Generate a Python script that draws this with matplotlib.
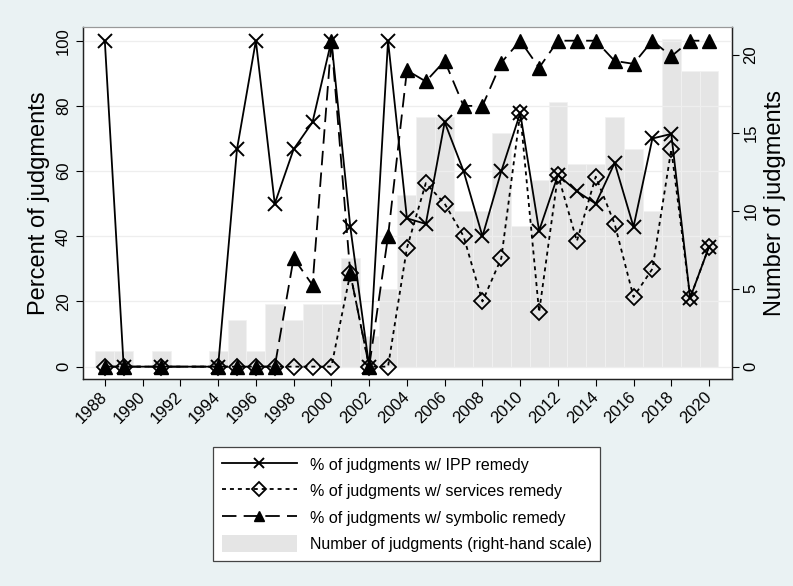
#!/usr/bin/env python3
"""Remedios por ano: % de julgamentos com cada tipo de remedio + numero de julgamentos."""

import matplotlib
matplotlib.use("Agg")
import matplotlib.pyplot as plt
from matplotlib.patches import Patch

plt.rcParams["font.family"] = ["Liberation Sans", "DejaVu Sans"]

# Dados
anos = [1988, 1989, 1991, 1994, 1995, 1996, 1997, 1998, 1999, 2000,
        2001, 2002, 2003, 2004, 2005, 2006, 2007, 2008, 2009, 2010,
        2011, 2012, 2013, 2014, 2015, 2016, 2017, 2018, 2019, 2020]
n_julgamentos = [1, 1, 1, 1, 3, 1, 4, 3, 4, 4,
                 7, 2, 5, 11, 16, 16, 10, 10, 15, 9,
                 12, 17, 13, 13, 16, 14, 10, 21, 19, 19]
pct_ipp = [100, 0, 0, 0, 66.7, 100, 50, 66.7, 75, 100,
           42.9, 0, 100, 45.5, 43.8, 75, 60, 40, 60, 77.8,
           41.7, 58.8, 53.8, 50, 62.5, 42.9, 70, 71.4, 21.1, 36.8]
pct_servicos = [0, 0, 0, 0, 0, 0, 0, 0, 0, 0,
                28.6, 0, 0, 36.4, 56.3, 50, 40, 20, 33.3, 77.8,
                16.7, 58.8, 38.5, 58.3, 43.8, 21.4, 30, 66.7, 21.1, 36.8]
pct_simbolico = [0, 0, 0, 0, 0, 0, 0, 33.3, 25, 100,
                 28.6, 0, 40, 90.9, 87.5, 93.8, 80, 80, 93.3, 100,
                 91.7, 100, 100, 100, 93.8, 92.9, 100, 95.2, 100, 100]
xticks_anos = list(range(1988, 2021, 2))

FUNDO = "#eaf2f3"
CINZA_BARRA = "#e5e5e5"

fig = plt.figure(figsize=(7.93, 5.86), dpi=100, facecolor=FUNDO)
ax = fig.add_axes([0.1043, 0.3532, 0.8184, 0.6007])  # barras (escala da direita)
ax.set_facecolor("white")
ax.bar(anos, n_julgamentos, width=1.0, color=CINZA_BARRA,
       edgecolor="#f2f2f2", linewidth=0.6, zorder=1)
ax.set_ylim(-0.79, 21.8)
ax.set_xlim(1986.83, 2021.2)

ax2 = ax.twinx()  # linhas (escala da esquerda)
ax.yaxis.tick_right()
ax.yaxis.set_label_position("right")
ax2.yaxis.tick_left()
ax2.yaxis.set_label_position("left")

ax2.set_ylim(-3.8, 104.2)
ax2.set_yticks([0, 20, 40, 60, 80, 100])
ax2.grid(axis="y", color="#eeeeee", linewidth=0.9, zorder=0)
ax2.set_axisbelow(True)

lw = 1.3
l_ipp, = ax2.plot(anos, pct_ipp, color="black", lw=lw, linestyle="-",
                  marker="x", markersize=9.5, markeredgewidth=1.4, zorder=4)
l_serv, = ax2.plot(anos, pct_servicos, color="black", lw=lw, linestyle=(0, (2.2, 2.2)),
                   marker="D", markersize=8.5, markerfacecolor="none",
                   markeredgewidth=1.3, zorder=3)
l_simb, = ax2.plot(anos, pct_simbolico, color="black", lw=lw, linestyle=(0, (8, 4)),
                   marker="^", markersize=9.5, markerfacecolor="black", zorder=3)

ax.set_xticks(xticks_anos)
ax.set_xticklabels([str(a) for a in xticks_anos], rotation=45, ha="right",
                   va="center", rotation_mode="anchor")
ax.tick_params(axis="x", labelsize=12, length=5, pad=6)
ax.set_yticks([0, 5, 10, 15, 20])
ax.tick_params(axis="y", labelsize=12, length=5, labelrotation=90)
for t in ax.get_yticklabels():
    t.set_va("center")
ax2.tick_params(axis="y", labelsize=12, length=5, labelrotation=90)
for t in ax2.get_yticklabels():
    t.set_va("center")

ax2.set_ylabel("Percent of judgments", fontsize=17, labelpad=4)
ax.set_ylabel("Number of judgments", fontsize=17, labelpad=4)

for a in (ax, ax2):
    for lado in ("left", "bottom", "right"):
        a.spines[lado].set_color("#222222")
        a.spines[lado].set_linewidth(0.9)
    a.spines["top"].set_color("#999999")
    a.spines["top"].set_linewidth(0.8)

handles = [l_ipp, l_serv, l_simb, Patch(facecolor=CINZA_BARRA, edgecolor="none")]
labels = ["% of judgments w/ IPP remedy",
          "% of judgments w/ services remedy",
          "% of judgments w/ symbolic remedy",
          "Number of judgments (right-hand scale)"]
leg = fig.legend(handles, labels, loc="upper left", bbox_to_anchor=(0.2585, 0.2509),
                 fontsize=11.5, handlelength=4.7, handleheight=1.25,
                 handletextpad=0.8, labelspacing=0.6, borderpad=0.55,
                 numpoints=1, markerscale=0.8, fancybox=False, framealpha=1,
                 edgecolor="#444444")
leg.get_frame().set_linewidth(0.9)

fig.savefig("out.png", dpi=100, facecolor=FUNDO)
